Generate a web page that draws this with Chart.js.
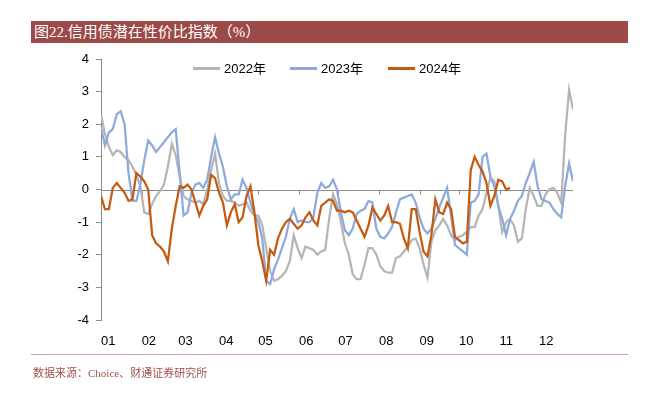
<!DOCTYPE html>
<html>
<head>
<meta charset="utf-8">
<script src="https://cdn.jsdelivr.net/npm/chart.js@4.4.1/dist/chart.umd.min.js"></script>
<style>
  body { margin: 0; width: 647px; height: 396px; background: #fff; position: relative; overflow: hidden; }
  #title { position: absolute; left: 31px; top: 21px; width: 597px; height: 22px; background: #9c4a47; color: #fff;
           font: 15px "Liberation Serif", "Noto Sans CJK SC", serif; line-height: 22px; padding-left: 3px; box-sizing: border-box; }
  #legend { position: absolute; top: 58px; left: 193px; font: 13px "Liberation Sans", "Noto Sans CJK SC", sans-serif; color: #000; }
  #legend span.item { position: absolute; white-space: nowrap; }
  #legend i { display: inline-block; width: 27px; height: 2.5px; vertical-align: middle; margin-right: 4px; position: relative; top: -1px; }
  #rule { position: absolute; left: 31px; top: 354px; width: 597px; height: 1px; background: #c9a3a1; }
  #source { position: absolute; left: 33px; top: 364px; font: 11px "Liberation Serif", "Noto Sans CJK SC", serif; color: #a0514d; }
  canvas { position: absolute; left: 0; top: 0; }
</style>
</head>
<body>
<div id="title">图22.信用债潜在性价比指数（%）</div>
<canvas id="chart" width="647" height="396"></canvas>
<div id="legend"></div>
<div id="rule"></div>
<div id="source">数据来源：Choice、财通证券研究所</div>
<script>
// one sample every 3 days, starting 1 Jan
const stepDays = 3;
const monthStarts = [0, 31, 59, 90, 120, 151, 181, 212, 243, 273, 304, 334];
const monthLabels = ['01', '02', '03', '04', '05', '06', '07', '08', '09', '10', '11', '12'];
const seriesNames = ['2022年', '2023年', '2024年'];
const seriesColors = ['#b5b5b5', '#8eaadc', '#c55a11'];

const v2022 = [2.3, 1.7, 1.3, 1.05, 1.2, 1.15, 1.0, 0.9, 0.7, 0.45,
  0.1, -0.7, -0.75, -0.45, -0.2, -0.05, 0.15, 0.7, 1.4, 1.05,
  0.4, -0.2, -0.3, -0.35, -0.4, -0.35, -0.45, 0.0, 0.6, 1.1,
  0.2, -0.2, -0.35, -0.35, -0.4, -0.5, -0.45, -0.4, -0.65, -0.8,
  -0.8, -1.1, -1.8, -2.5, -2.8, -2.75, -2.65, -2.5, -2.2, -1.4,
  -1.8, -2.1, -1.75, -1.8, -1.85, -2.0, -1.9, -1.85, -0.9, -0.15,
  -0.45, -1.0, -1.65, -2.0, -2.6, -2.75, -2.75, -2.3, -1.8, -1.8,
  -2.0, -2.35, -2.5, -2.55, -2.55, -2.1, -2.05, -1.9, -1.75, -1.55,
  -1.5, -1.8, -2.3, -2.7, -1.6, -1.25, -1.1, -0.9, -1.1, -1.4,
  -1.55, -1.45, -1.4, -1.3, -1.15, -1.15, -0.8, -0.6, -0.1, 0.35,
  0.25, -0.5, -1.3, -1.0, -0.9, -1.1, -1.6, -1.5, -0.6, 0.05,
  -0.2, -0.5, -0.5, -0.15, 0.0, 0.05, -0.1, -0.4, 1.65, 3.05,
  2.45];

const v2023 = [1.9, 1.35, 1.75, 1.85, 2.3, 2.4, 2.0, 0.5, -0.35, -0.35,
  0.15, 0.9, 1.5, 1.35, 1.15, 1.3, 1.45, 1.6, 1.75, 1.85,
  0.5, -0.8, -0.7, -0.1, 0.15, 0.2, 0.05, 0.3, 1.0, 1.6,
  1.1, 0.7, 0.1, -0.3, -0.15, -0.15, 0.3, 0.05, -0.4, -0.75,
  -1.0, -1.5, -2.8, -2.9, -2.45, -2.15, -1.8, -1.45, -0.9, -0.6,
  -1.0, -0.95, -1.0, -1.0, -0.85, -0.1, 0.2, 0.05, 0.1, 0.3,
  0.0, -0.7, -1.25, -1.4, -1.2, -0.75, -0.65, -0.6, -0.35, -0.4,
  -1.2, -1.45, -1.5, -1.35, -1.15, -0.7, -0.3, -0.25, -0.2, -0.15,
  -0.4, -0.85, -1.2, -1.35, -1.2, -0.9, -0.55, -0.25, 0.05, -0.8,
  -1.7, -1.8, -1.9, -2.0, -0.4, -0.35, -0.15, 1.0, 1.1, 0.4,
  0.1, -0.5, -0.9, -1.4, -0.9, -0.65, -0.35, -0.2, 0.2, 0.5,
  0.85, 0.1, -0.3, -0.35, -0.4, -0.6, -0.75, -0.85, 0.1, 0.8,
  0.25];

const v2024 = [-0.2, -0.6, -0.6, 0.05, 0.2, 0.05, -0.1, -0.35, -0.3, 0.5,
  0.4, 0.25, 0.0, -1.4, -1.65, -1.75, -1.9, -2.2, -1.2, -0.5,
  0.1, 0.05, 0.15, 0.0, -0.4, -0.8, -0.5, -0.3, 0.45, 0.35,
  -0.1, -0.4, -1.1, -0.7, -0.45, -1.0, -0.85, -0.2, 0.1, -0.7,
  -1.7, -2.2, -2.8, -1.85, -2.0, -1.5, -1.2, -1.0, -0.9, -1.05,
  -1.2, -1.1, -0.85, -0.7, -0.95, -1.1, -0.5, -0.4, -0.3, -0.35,
  -0.65, -0.65, -0.7, -0.65, -0.7, -0.95, -1.2, -1.45, -1.1, -0.55,
  -0.75, -0.95, -0.8, -0.5, -1.0, -1.0, -1.05, -1.5, -1.8, -0.6,
  -0.6, -1.3, -1.9, -2.05, -1.4, -0.3, -0.7, -0.75, -0.4, -0.6,
  -1.45, -1.55, -1.65, -1.6, 0.6, 1.0, 0.75, 0.55, 0.2, -0.5,
  -0.2, 0.3, 0.25, 0.0, 0.05];

const yTicks = [-4, -3, -2, -1, 0, 1, 2, 3, 4];

function toPoints(values) {
  return values.map((v, i) => ({ x: i * stepDays, y: v }));
}

// legend (html, sits inside the plot like the original)
const legend = document.getElementById('legend');
const legendOffsets = [0, 97, 195];
seriesNames.forEach((name, i) => {
  const item = document.createElement('span');
  item.className = 'item';
  item.style.left = legendOffsets[i] + 'px';
  item.innerHTML = '<i style="background:' + seriesColors[i] + '"></i>' + name;
  legend.appendChild(item);
});

// zero line with small month ticks, drawn under the lines
const zeroLine = {
  id: 'zeroLine',
  beforeDatasetsDraw(chart) {
    const { ctx, chartArea, scales: { x, y } } = chart;
    const y0 = Math.round(y.getPixelForValue(0)) + 0.5;
    ctx.save();
    ctx.strokeStyle = '#8c8c8c';
    ctx.lineWidth = 1;
    ctx.beginPath();
    ctx.moveTo(chartArea.left, y0);
    ctx.lineTo(chartArea.right, y0);
    x.ticks.forEach(t => {
      const px = Math.round(x.getPixelForValue(t.value)) + 0.5;
      ctx.moveTo(px, y0);
      ctx.lineTo(px, y0 + 4);
    });
    ctx.stroke();
    ctx.restore();
  }
};

const allSeries = [v2022, v2023, v2024];

new Chart(document.getElementById('chart'), {
  type: 'line',
  data: {
    datasets: allSeries.map((vals, i) => ({
      label: seriesNames[i],
      data: toPoints(vals),
      borderColor: seriesColors[i],
      borderWidth: 2.25,
      pointRadius: 0,
      tension: 0,
      order: 3 - i
    }))
  },
  options: {
    responsive: false,
    animation: false,
    devicePixelRatio: 1,
    layout: { padding: { left: 60, right: 74, top: 59, bottom: 46 } },
    plugins: { legend: { display: false }, tooltip: { enabled: false } },
    scales: {
      x: {
        type: 'linear',
        min: 0,
        max: 360,
        afterBuildTicks: s => { s.ticks = monthStarts.map(v => ({ value: v })); },
        afterFit: s => { s.height = 30; },
        grid: { display: false },
        border: { display: false },
        ticks: {
          autoSkip: false,
          maxRotation: 0,
          align: 'start',
          padding: 6,
          color: '#000',
          font: { family: 'Liberation Sans', size: 13 },
          callback: (v, i) => monthLabels[i]
        }
      },
      y: {
        min: -4,
        max: 4,
        afterBuildTicks: s => { s.ticks = yTicks.map(v => ({ value: v })); },
        afterFit: s => { s.width = 41; },
        grid: { drawOnChartArea: false, drawTicks: true, tickLength: 5, color: '#8c8c8c' },
        border: { color: '#8c8c8c' },
        ticks: {
          padding: 7,
          color: '#000',
          font: { family: 'Liberation Sans', size: 13 }
        }
      }
    }
  },
  plugins: [zeroLine]
});
</script>
</body>
</html>
